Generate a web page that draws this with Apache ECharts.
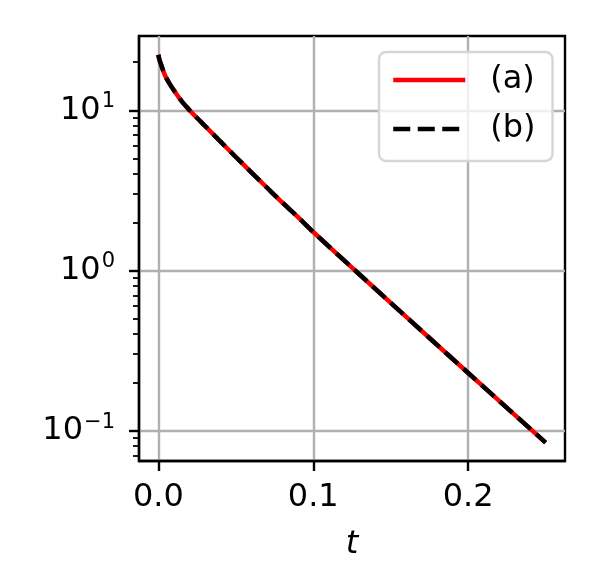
<!DOCTYPE html>
<html><head><meta charset="utf-8">
<script src="https://cdn.jsdelivr.net/npm/echarts@6/dist/echarts.min.js"></script>
<style>html,body{margin:0;padding:0;background:#fff}#c{width:600px;height:588px}</style>
</head><body><div id="c"></div>
<script>
const tValues = [0, 0.0005, 0.001, 0.002, 0.0035, 0.005, 0.0075, 0.01, 0.015, 0.02, 0.025, 0.03, 0.04, 0.05, 0.06, 0.07, 0.08, 0.09, 0.1, 0.125, 0.15, 0.175, 0.2, 0.225, 0.25];
const seriesA = [22.28, 21.13, 20.28, 19.01, 17.30, 16.03, 14.55, 13.37, 11.43, 10.07, 8.97, 8.02, 6.40, 5.12, 4.10, 3.30, 2.66, 2.16, 1.74, 1.042, 0.628, 0.379, 0.229, 0.1387, 0.0841];
const seriesB = [22.28, 21.13, 20.28, 19.01, 17.30, 16.03, 14.55, 13.37, 11.43, 10.07, 8.97, 8.02, 6.40, 5.12, 4.10, 3.30, 2.66, 2.16, 1.74, 1.042, 0.628, 0.379, 0.229, 0.1387, 0.0841];
const seriesNames = ['(a)', '(b)'];
const xTicks = [0, 0.1, 0.2];
const yTicks = [0.1, 1, 10];
const yMinorTicks = [0.07, 0.08, 0.09, 0.2, 0.3, 0.4, 0.5, 0.6, 0.7, 0.8, 0.9, 2, 3, 4, 5, 6, 7, 8, 9, 20];

const FONT = 'DejaVu Sans';
const FS = 32;
const yMin = Math.pow(10, -1.19), yMax = Math.pow(10, 1.465);
const chart = echarts.init(document.getElementById('c'), null, {renderer: 'canvas'});
const sup = {'-1': '\u22121', '0': '0', '1': '1'};
chart.setOption({
  animation: false,
  grid: {left: 139, top: 36, right: 35, bottom: 127, show: true, borderColor: '#000', borderWidth: 2.4, backgroundColor: 'transparent'},
  xAxis: {
    type: 'value', min: -0.0125, max: 0.2625,
    axisLine: {show: true, onZero: false, lineStyle: {color: '#000', width: 2.4}},
    axisTick: {show: true, customValues: xTicks, length: 10, lineStyle: {color: '#000', width: 2.4}},
    axisLabel: {customValues: xTicks, formatter: v => v.toFixed(1), fontSize: FS, fontFamily: FONT, color: '#000', margin: 21},
    splitLine: {show: true, lineStyle: {color: '#b0b0b0', width: 2.4}},
    name: 't', nameLocation: 'middle', nameGap: 68,
    nameTextStyle: {fontSize: FS, fontFamily: FONT, fontStyle: 'italic', color: '#000'}
  },
  yAxis: [{
    type: 'log', logBase: 10, min: yMin, max: yMax,
    axisLine: {show: true, onZero: false, lineStyle: {color: '#000', width: 2.4}},
    axisTick: {show: true, customValues: yTicks, length: 10, lineStyle: {color: '#000', width: 2.4}},
    axisLabel: {
      customValues: yTicks, margin: 24, color: '#000',
      formatter: v => { const e = Math.round(Math.log10(v)); return '{b|10}{s|' + sup[String(e)] + '}'; },
      rich: {
        b: {fontSize: FS, fontFamily: FONT, color: '#000'},
        s: {fontSize: 21, fontFamily: FONT, color: '#000', padding: [0, 0, 17, 1]}
      }
    },
    splitLine: {show: true, lineStyle: {color: '#b0b0b0', width: 2.4}}
  }, {
    type: 'log', logBase: 10, min: yMin, max: yMax, position: 'left',
    axisLine: {show: false, onZero: false},
    axisTick: {show: true, customValues: yMinorTicks, length: 6, lineStyle: {color: '#000', width: 1.8}},
    axisLabel: {show: false},
    splitLine: {show: false}
  }],
  legend: {
    orient: 'vertical', left: 379, top: 52,
    itemWidth: 72, itemHeight: 30, itemGap: 15,
    padding: [11, 17, 15, 12],
    backgroundColor: 'rgba(255,255,255,0.8)', borderColor: '#d6d6d6', borderWidth: 2.4, borderRadius: 7,
    textStyle: {fontSize: FS, fontFamily: FONT, color: '#000', padding: [0, 0, 0, 20], lineHeight: 34},
    itemStyle: {opacity: 0},
    lineStyle: {width: 4.5},
    data: seriesNames
  },
  series: [{
    name: seriesNames[0], type: 'line', symbol: 'none', smooth: 0.3,
    lineStyle: {color: '#ff0000', width: 4.5}, itemStyle: {color: '#ff0000'},
    data: tValues.map((t, i) => [t, seriesA[i]])
  }, {
    name: seriesNames[1], type: 'line', symbol: 'none', smooth: 0.3,
    lineStyle: {color: '#000', width: 4.5, type: [17, 7.5]}, itemStyle: {color: '#000'},
    data: tValues.map((t, i) => [t, seriesB[i]])
  }]
});
</script></body></html>
